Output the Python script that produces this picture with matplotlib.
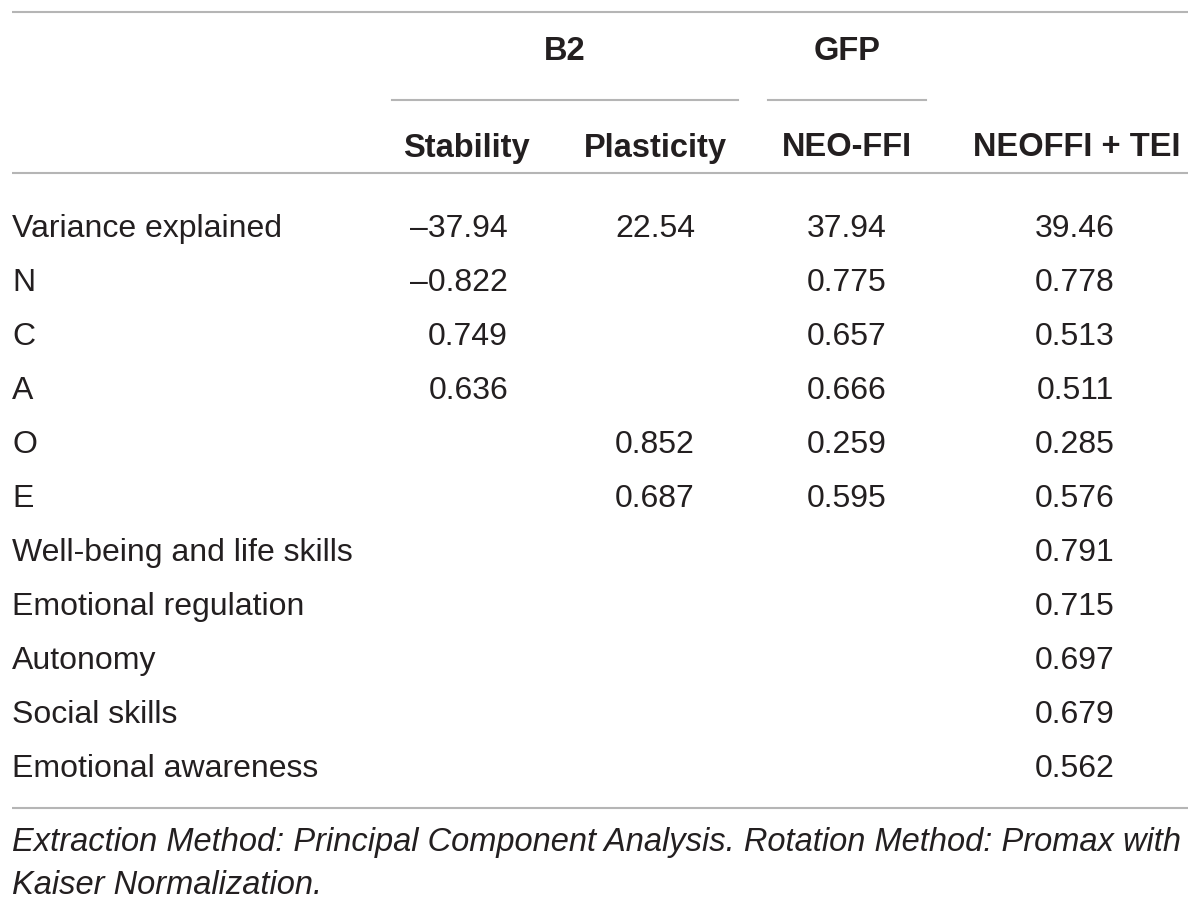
import matplotlib.pyplot as plt

plt.rcParams['font.family'] = ['Liberation Sans', 'DejaVu Sans']

groups = ["B2", "GFP"]
columns = ["Stability", "Plasticity", "NEO-FFI", "NEOFFI + TEI"]
rows = ["Variance explained", "N", "C", "A", "O", "E",
        "Well-being and life skills", "Emotional regulation",
        "Autonomy", "Social skills", "Emotional awareness"]
stability = ["\u201337.94", "\u20130.822", "0.749", "0.636", "", "", "", "", "", "", ""]
plasticity = ["22.54", "", "", "", "0.852", "0.687", "", "", "", "", ""]
neo_ffi = ["37.94", "0.775", "0.657", "0.666", "0.259", "0.595", "", "", "", "", ""]
neoffi_tei = ["39.46", "0.778", "0.513", "0.511", "0.285", "0.576",
              "0.791", "0.715", "0.697", "0.679", "0.562"]
note_lines = ["Extraction Method: Principal Component Analysis. Rotation Method: Promax with",
              "Kaiser Normalization."]

txt = "#231f20"
rule = "#b5b5b5"
fs = 23
fsb = 23.5

fig = plt.figure(figsize=(12, 9.07), dpi=100)
ax = fig.add_axes([0, 0, 1, 1])
ax.set_xlim(0, 1200)
ax.set_ylim(907, 0)
ax.axis("off")

# rules
for y in [12, 173, 808]:
    ax.plot([12, 1188], [y, y], color=rule, lw=1.5, solid_capstyle="butt")
ax.plot([392, 738], [100, 100], color=rule, lw=1.5)
ax.plot([768, 926], [100, 100], color=rule, lw=1.5)

# headers
ax.text(565, 51, groups[0], ha="center", va="center", fontsize=fsb, weight="bold", color=txt)
ax.text(847, 51, groups[1], ha="center", va="center", fontsize=fsb, weight="bold", color=txt)
col_x = [466, 655, 847, 1077]
for x, c in zip(col_x, columns):
    ax.text(x, 148, c, ha="center", va="center", fontsize=fsb, weight="bold", color=txt)

# body
y0, dy = 229, 54
for i, r in enumerate(rows):
    y = y0 + i * dy
    ax.text(12, y, r, ha="left", va="center", fontsize=fs, color=txt)
    ax.text(508, y, stability[i], ha="right", va="center", fontsize=fs, color=txt)
    ax.text(655, y, plasticity[i], ha="center", va="center", fontsize=fs, color=txt)
    ax.text(847, y, neo_ffi[i], ha="center", va="center", fontsize=fs, color=txt)
    ax.text(1075, y, neoffi_tei[i], ha="center", va="center", fontsize=fs, color=txt)

for k, line in enumerate(note_lines):
    ax.text(12, 843 + 42 * k, line, ha="left", va="center", fontsize=fsb,
            style="italic", color=txt)

fig.savefig("out.png", dpi=100)
